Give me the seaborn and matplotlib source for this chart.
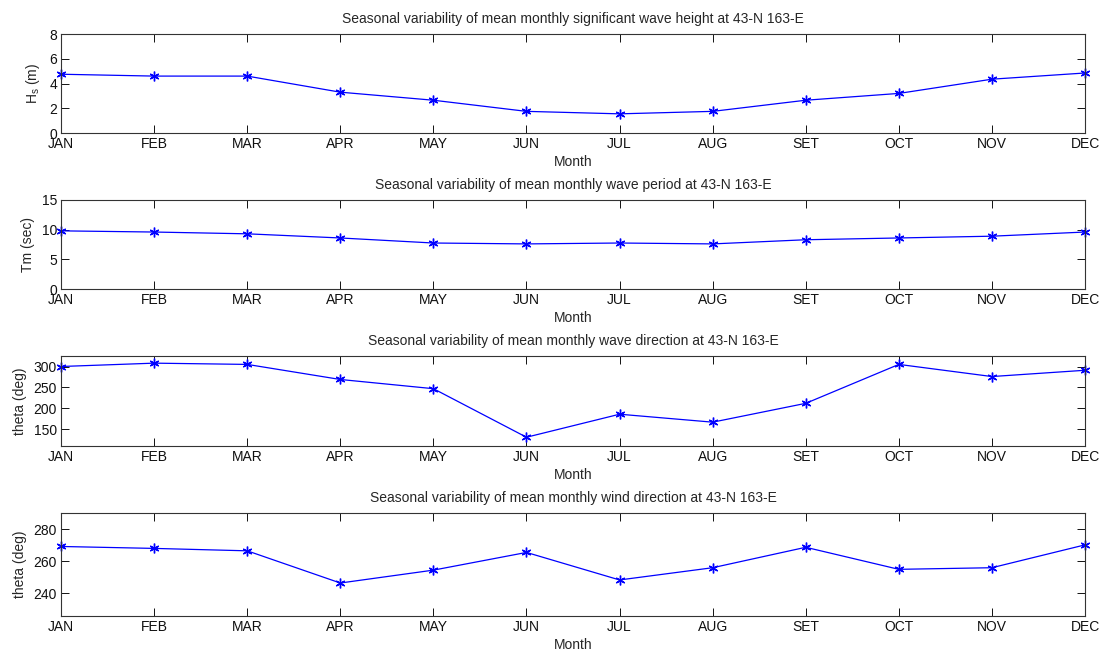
import pandas as pd
import matplotlib
matplotlib.use("Agg")
import matplotlib.pyplot as plt
import seaborn as sns

months = ["JAN", "FEB", "MAR", "APR", "MAY", "JUN", "JUL", "AUG", "SET", "OCT", "NOV", "DEC"]

# mean monthly values
hs = [4.75, 4.6, 4.6, 3.3, 2.65, 1.75, 1.55, 1.75, 2.65, 3.2, 4.35, 4.85]
tm = [9.8, 9.6, 9.3, 8.6, 7.75, 7.6, 7.75, 7.6, 8.3, 8.6, 8.9, 9.6]
wave_dir = [300, 308, 305, 269, 247, 131, 186, 167, 212, 305, 276, 291]
wind_dir = [269.2, 268, 266.5, 246.5, 254.5, 265.5, 248.4, 256, 268.7, 255, 256, 270.2]

titles = [
    "Seasonal variability of mean monthly significant wave height at 43-N 163-E",
    "Seasonal variability of mean monthly wave period at 43-N 163-E",
    "Seasonal variability of mean monthly wave direction at 43-N 163-E",
    "Seasonal variability of mean monthly wind direction at 43-N 163-E",
]
ylabels = ["H$_\\mathregular{s}$ (m)", "Tm (sec)", "theta (deg)", "theta (deg)"]
ylims = [(0, 8), (0, 15), (110, 325), (226, 290)]
yticks = [[0, 2, 4, 6, 8], [0, 5, 10, 15], [150, 200, 250, 300], [240, 260, 280]]

sns.set_style("ticks")
plt.rcParams["font.family"] = ["Liberation Sans", "DejaVu Sans"]
plt.rcParams["mathtext.fontset"] = "custom"
plt.rcParams["mathtext.rm"] = "Liberation Sans"

fig = plt.figure(figsize=(11.04, 6.54), dpi=100)

# axes boxes [left, bottom, width, height] in figure fractions
boxes = [
    [0.0553, 0.7966, 0.9275, 0.1514],
    [0.0553, 0.5581, 0.9275, 0.1361],
    [0.0553, 0.3180, 0.9275, 0.1376],
    [0.0553, 0.0581, 0.9275, 0.1575],
]

for i, series in enumerate([hs, tm, wave_dir, wind_dir]):
    ax = fig.add_axes(boxes[i])
    df = pd.DataFrame({"x": range(len(months)), "y": series})
    sns.lineplot(data=df, x="x", y="y", ax=ax, color="#0000ff", linewidth=0.9,
                 marker=(6, 2, 0), markersize=7, markeredgewidth=1.0,
                 markeredgecolor="#0000ff", clip_on=False)
    ax.set_xlim(0, len(months) - 1)
    ax.set_ylim(*ylims[i])
    ax.set_xticks(range(len(months)))
    ax.set_xticklabels(months)
    ax.set_yticks(yticks[i])
    ax.tick_params(direction="in", length=6, width=0.7, top=True, right=True,
                   labelsize=10, colors="#111111")
    ax.tick_params(axis="x", pad=3)
    ax.tick_params(axis="y", pad=3)
    for sp in ax.spines.values():
        sp.set_visible(True)
        sp.set_linewidth(0.8)
        sp.set_color("#333333")
    ax.set_title(titles[i], fontsize=10, pad=8)
    ax.set_xlabel("Month", fontsize=10, labelpad=3)
    ax.set_ylabel(ylabels[i], fontsize=10, labelpad=5)

fig.savefig("out.png", dpi=100)
